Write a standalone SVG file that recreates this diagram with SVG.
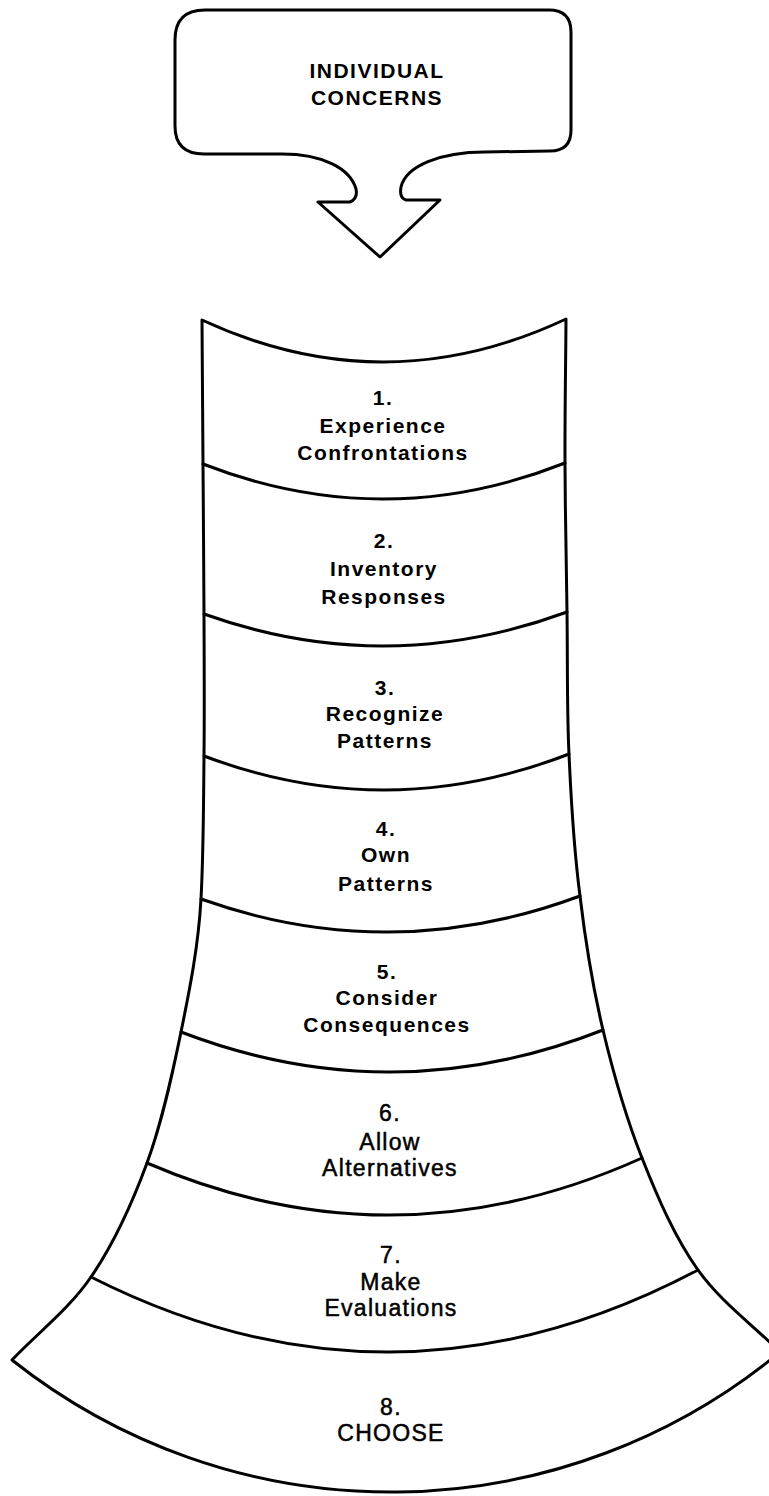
<svg xmlns="http://www.w3.org/2000/svg" width="769" height="1496" viewBox="0 0 769 1496">
<style>
.ln{fill:none;stroke:#000;stroke-width:3;stroke-linejoin:round;stroke-linecap:round}
.sh{fill:#fff;stroke:#000;stroke-width:3;stroke-linejoin:round}
.t{font-family:"Liberation Sans",Arial,sans-serif;font-weight:bold;font-size:21px;letter-spacing:1.5px;text-anchor:middle;fill:#000}
.b{font-family:"Liberation Sans",Arial,sans-serif;font-weight:normal;font-size:23px;letter-spacing:1.3px;text-anchor:middle;fill:#000;stroke:#000;stroke-width:0.5}
.c{font-family:"Liberation Sans",Arial,sans-serif;font-weight:bold;font-size:21px;letter-spacing:1.5px;text-anchor:middle;fill:#000}
</style>
<rect width="769" height="1496" fill="#fff"/>
<g id="callout">
<path class="sh" d="M175,40 Q175,10 205,10 L549,10 Q571,10 571,32 L571,130 Q571,151 550,151 L485,152 C440,152 406,166 401,187 Q399,198 406,200 L440,200 L380,257 L318,202 L350,202 Q358,199 356,189 C350,168 322,154 282,154 L204,154 Q175,154 175,126 Z"/>
<text class="c" x="377" y="78">INDIVIDUAL</text>
<text class="c" x="377" y="105">CONCERNS</text>
</g>
<g id="funnel">
<path class="sh" d="M202,320 C202.3,368 202.7,415 203,464 C203.3,513 203.8,565.3 204,614 C204.2,662.7 204.5,708.5 204,756 C203.5,803.5 203.5,853 201,899 C198.5,945 190,988 181,1032 C172,1076 162,1122.2 147,1163 C132,1203.8 113.5,1244.2 91,1277 C68.5,1309.8 38.3,1332.3 12,1360 A610,610 0 0 0 780,1352 C752.7,1324.7 721,1302.3 698,1270 C675,1237.7 657.8,1198 642,1158 C626.2,1118 613.3,1073.3 603,1030 C592.7,986.7 585.7,943.7 580,896 C574.3,852.3 571.2,803.5 569,754 C566.8,708.5 567.7,661.7 567,612 C566.3,564.3 565.2,513 565,463 C564.8,415 565.7,367.3 566,319 Q384,404.5 202,320 Z"/>
</g>
<g id="connectors">
<path class="ln" d="M203,464 Q384,534.5 565,463"/>
<path class="ln" d="M204,614 Q385.5,679 567,612"/>
<path class="ln" d="M204,756 Q386.5,825 569,754"/>
<path class="ln" d="M201,899 Q390.5,966.5 580,896"/>
<path class="ln" d="M181,1032 Q392,1113 603,1030"/>
<path class="ln" d="M147,1163 Q394.5,1269.5 642,1158"/>
<path class="ln" d="M91,1277 Q394.5,1430.5 698,1270"/>
</g>
<g id="step1">
<text class="t" x="383" y="405">1.</text>
<text class="t" x="383" y="433">Experience</text>
<text class="t" x="383" y="460">Confrontations</text>
</g>
<g id="step2">
<text class="t" x="384" y="548">2.</text>
<text class="t" x="384" y="576">Inventory</text>
<text class="t" x="384" y="604">Responses</text>
</g>
<g id="step3">
<text class="t" x="385" y="695">3.</text>
<text class="t" x="385" y="721">Recognize</text>
<text class="t" x="385" y="748">Patterns</text>
</g>
<g id="step4">
<text class="t" x="386" y="836">4.</text>
<text class="t" x="386" y="862">Own</text>
<text class="t" x="386" y="891">Patterns</text>
</g>
<g id="step5">
<text class="t" x="387" y="979">5.</text>
<text class="t" x="387" y="1005">Consider</text>
<text class="t" x="387" y="1032">Consequences</text>
</g>
<g id="step6">
<text class="b" x="390" y="1121">6.</text>
<text class="b" x="390" y="1150">Allow</text>
<text class="b" x="390" y="1176">Alternatives</text>
</g>
<g id="step7">
<text class="b" x="391" y="1263">7.</text>
<text class="b" x="391" y="1290">Make</text>
<text class="b" x="391" y="1316">Evaluations</text>
</g>
<g id="step8">
<text class="b" x="391" y="1415">8.</text>
<text class="b" x="391" y="1441">CHOOSE</text>
</g>
</svg>
